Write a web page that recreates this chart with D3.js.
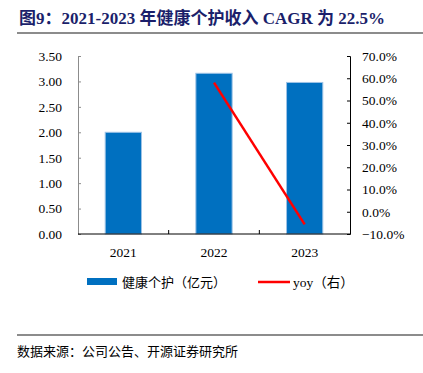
<!DOCTYPE html>
<html lang='zh'>
  <head>
    <meta charset='utf-8'>
    <title>健康个护收入</title>
    <script type='text/javascript' src='https://cdn.jsdelivr.net/npm/d3@7'></script>
    <style type='text/css'>
    body{ margin: 0; background: #fff; }
    .axis text{
      font-family: 'Liberation Serif', 'Times New Roman', serif;
      font-size: 13.5px;
      fill: #000;
    }
    .cn{ font-family: 'Noto Sans CJK SC', sans-serif; }
    </style>
  </head>
  <body>
    <script type='text/javascript'>

    // data
    var years = ['2021', '2022', '2023'];
    var revenue = [2.00, 3.16, 2.98];     // 亿元
    var yoy = [null, 58.0, -5.7];         // %
    var leftTicks = [0, 0.5, 1, 1.5, 2, 2.5, 3, 3.5];
    var rightTicks = [-10, 0, 10, 20, 30, 40, 50, 60, 70];

    var w = 423;
    var h = 373;
    var plotL = 78, plotR = 350, plotT = 56, plotB = 234;

    var svg = d3.select('body')
                .append('svg')
                .attr('width', w)
                .attr('height', h);

    // title
    svg.append('text')
       .attr('x', 19)
       .attr('y', 24)
       .attr('fill', '#1b1f6b')
       .attr('font-weight', 'bold')
       .attr('font-size', '17px')
       .attr('font-family', "'Liberation Serif', 'Noto Sans CJK SC', serif")
       .text('图9：2021-2023 年健康个护收入 CAGR 为 22.5%');

    svg.append('rect')
       .attr('x', 17).attr('y', 32)
       .attr('width', w - 17).attr('height', 2)
       .attr('fill', '#8c8c8c');

    var xScale = d3.scaleBand()
                   .domain(years)
                   .range([plotL, plotR])
                   .paddingInner(0.6)
                   .paddingOuter(0.3);

    var xBand = d3.scaleBand()
                  .domain(years)
                  .range([plotL, plotR]);

    var yLeft = d3.scaleLinear()
                  .domain([0, 3.5])
                  .range([plotB, plotT]);

    var yRight = d3.scaleLinear()
                   .domain([-10, 70])
                   .range([plotB, plotT]);

    // bars
    svg.selectAll('rect.bar')
       .data(revenue)
       .enter()
       .append('rect')
       .attr('class', 'bar')
       .attr('x', function(d, i){ return xScale(years[i]); })
       .attr('y', function(d){ return yLeft(d); })
       .attr('width', xScale.bandwidth())
       .attr('height', function(d){ return plotB - yLeft(d); })
       .attr('fill', '#0070c0')
       .attr('stroke', '#9dc3e6')
       .attr('stroke-width', 1);

    // left axis
    var yAxisL = d3.axisLeft(yLeft)
                   .tickValues(leftTicks)
                   .tickSizeInner(-3)
                   .tickSizeOuter(-3)
                   .tickPadding(16)
                   .tickFormat(d3.format('.2f'));
    var gL = svg.append('g')
       .attr('class', 'axis')
       .attr('transform', 'translate(' + plotL + ',0)')
       .call(yAxisL);
    gL.selectAll('path, line').attr('stroke', '#8c8c8c');

    // right axis
    var yAxisR = d3.axisRight(yRight)
                   .tickValues(rightTicks)
                   .tickSizeInner(-3)
                   .tickSizeOuter(-3)
                   .tickPadding(12)
                   .tickFormat(function(d){ return d3.format('.1f')(d) + '%'; });
    var gR = svg.append('g')
       .attr('class', 'axis')
       .attr('transform', 'translate(' + plotR + ',0)')
       .call(yAxisR);
    gR.selectAll('path, line').attr('stroke', '#000');

    // x axis: ticks at band boundaries
    var gX = svg.append('g')
       .attr('class', 'axis')
       .attr('transform', 'translate(0,' + plotB + ')');
    gX.append('line')
      .attr('x1', plotL).attr('x2', plotR)
      .attr('stroke', '#000');
    gX.selectAll('line.tk')
      .data(years.slice(1))
      .enter()
      .append('line')
      .attr('class', 'tk')
      .attr('x1', function(d){ return xBand(d); })
      .attr('x2', function(d){ return xBand(d); })
      .attr('y1', 0).attr('y2', -4)
      .attr('stroke', '#000');
    gX.selectAll('text')
      .data(years)
      .enter()
      .append('text')
      .attr('x', function(d){ return xBand(d) + xBand.bandwidth() / 2; })
      .attr('y', 23)
      .attr('text-anchor', 'middle')
      .text(function(d){ return d; });

    // yoy line
    var pts = years.map(function(d, i){ return [d, yoy[i]]; })
                   .filter(function(p){ return p[1] !== null; });
    var line = d3.line()
                 .x(function(p){ return xBand(p[0]) + xBand.bandwidth() / 2; })
                 .y(function(p){ return yRight(p[1]); });
    svg.append('path')
       .datum(pts)
       .attr('d', line)
       .attr('fill', 'none')
       .attr('stroke', '#ff0000')
       .attr('stroke-width', 2.5);

    // legend
    var lg = svg.append('g').attr('transform', 'translate(0,282)');
    lg.append('rect')
      .attr('x', 87).attr('y', -4)
      .attr('width', 30).attr('height', 7)
      .attr('fill', '#0070c0');
    lg.append('text')
      .attr('class', 'cn')
      .attr('x', 122).attr('y', 5)
      .attr('font-size', '13px')
      .text('健康个护（亿元）');
    lg.append('line')
      .attr('x1', 258).attr('x2', 290)
      .attr('y1', 0).attr('y2', 0)
      .attr('stroke', '#ff0000')
      .attr('stroke-width', 2.5);
    lg.append('text')
      .attr('x', 293).attr('y', 5)
      .attr('font-size', '13.5px')
      .attr('font-family', "'Liberation Serif', 'Noto Sans CJK SC', serif")
      .text('yoy（右）');

    // source
    svg.append('rect')
       .attr('x', 17).attr('y', 334)
       .attr('width', w - 17).attr('height', 2)
       .attr('fill', '#8c8c8c');
    svg.append('text')
       .attr('class', 'cn')
       .attr('x', 17).attr('y', 356)
       .attr('font-size', '13px')
       .text('数据来源：公司公告、开源证券研究所');

    </script>
  </body>
</html>
